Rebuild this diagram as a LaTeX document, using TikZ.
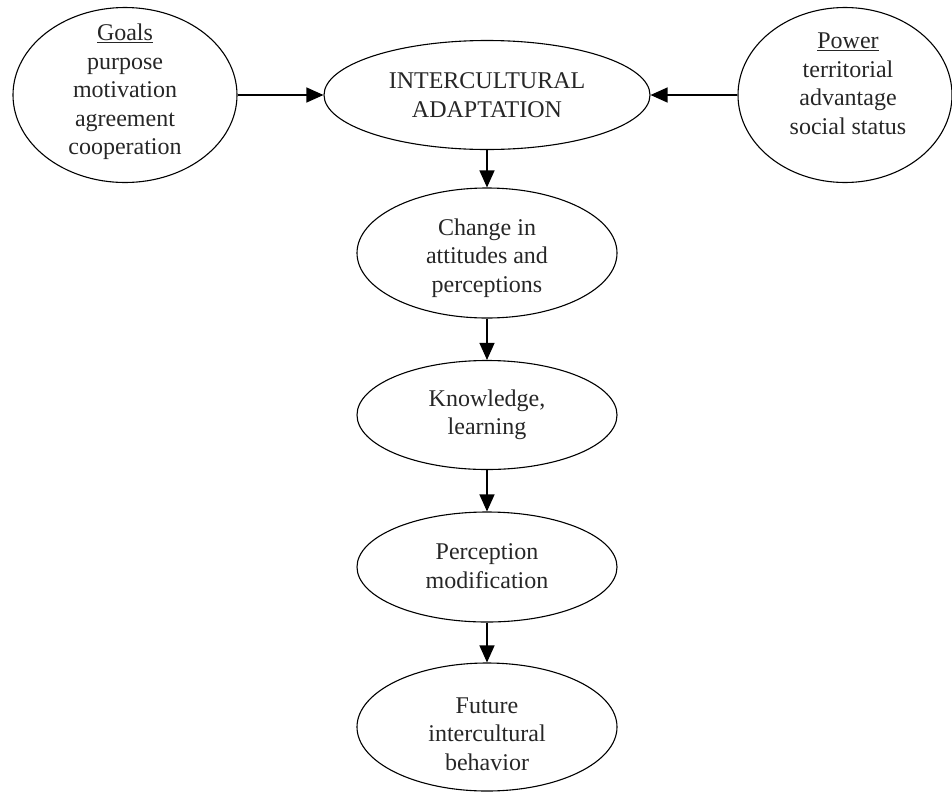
\documentclass[tikz,border=0pt]{standalone}
\usepackage{fontspec}
\setmainfont{Liberation Serif}
\usetikzlibrary{shapes.geometric,arrows.meta}
\begin{document}
\begin{tikzpicture}[x=1pt,y=-1pt,
  ell/.style={draw=black, line width=1.1pt, ellipse, inner sep=0pt},
  txt/.style={align=center, inner sep=0pt, text=black!85, font=\fontsize{24}{28.5}\selectfont},
  conn/.style={line width=1.2pt, -{Triangle[length=17pt,width=15pt]}}]
\useasboundingbox (0,0) rectangle (952,793);
% ellipses
\node[ell, minimum width=224pt, minimum height=175pt] (g) at (125,95) {};
\node[ell, minimum width=326pt, minimum height=109pt] (ia) at (487,95) {};
\node[ell, minimum width=214pt, minimum height=175pt] (p) at (845,95) {};
\node[ell, minimum width=260pt, minimum height=130pt] (ch) at (487,253) {};
\node[ell, minimum width=260pt, minimum height=109pt] (kn) at (487,415) {};
\node[ell, minimum width=260pt, minimum height=110pt] (pm) at (487,567) {};
\node[ell, minimum width=260pt, minimum height=128pt] (fu) at (487,727) {};
% texts
\node[txt] (gt) at (125,92) {\underline{Goals}\\purpose\\motivation\\agreement\\cooperation};
\node[txt] (iat) at (487,95) {INTERCULTURAL\\ADAPTATION};
\node[txt] (pt) at (848,84) {\underline{Power}\\territorial\\advantage\\social status};
\node[txt] (cht) at (487,258) {Change in\\attitudes and\\perceptions};
\node[txt] (knt) at (487,415) {Knowledge,\\learning};
\node[txt] (pmt) at (487,566) {Perception\\modification};
\node[txt] (fut) at (487,734) {Future\\intercultural\\behavior};
% connectors
\draw[conn] (g.east) -- (ia.west);
\draw[conn] (p.west) -- (ia.east);
\draw[conn] (ia.south) -- (ch.north);
\draw[conn] (ch.south) -- (kn.north);
\draw[conn] (kn.south) -- (pm.north);
\draw[conn] (pm.south) -- (fu.north);
\end{tikzpicture}
\end{document}
